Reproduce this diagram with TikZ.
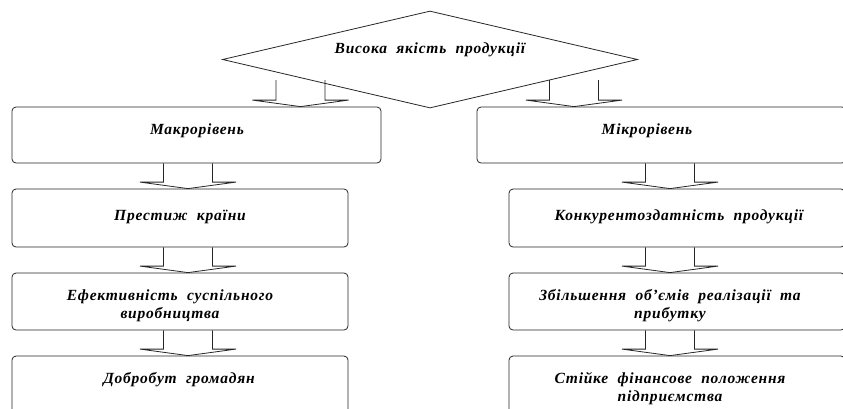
\documentclass[tikz,border=0pt]{standalone}
\usepackage{fontspec}
\setmainfont{Liberation Serif}
\newfontfamily\labfont[LetterSpace=5,WordSpace=2]{Liberation Serif}
\usetikzlibrary{shapes.geometric,calc}
\newcommand\blkarrow[3]{%
  \draw[arrowline] let \p1=(#1 |- #2), \p2=(#1 |- #3) in
   (\x1-24.5pt,\y1) -- (\x1-24.5pt,\y2+6.5pt) -- (\x1-48pt,\y2+6.5pt) -- (\x1,\y2)
   -- (\x1+48pt,\y2+6.5pt) -- (\x1+24.5pt,\y2+6.5pt) -- (\x1+24.5pt,\y1);}
\begin{document}
\begin{tikzpicture}[x=1pt,y=-1pt,
  box/.style={draw=black!85, line width=0.8pt, rounded corners=4pt, inner sep=0pt},
  dia/.style={draw=black!85, line width=0.8pt, diamond, inner sep=0pt, minimum width=415pt, minimum height=97pt},
  txt/.style={font=\labfont\fontsize{15.5}{18}\selectfont\bfseries\itshape, align=center, inner sep=0pt, anchor=base},
  arrowline/.style={draw=black!85, line width=0.8pt, line join=miter}]
\useasboundingbox (0,0) rectangle (843,408);
\clip (0,0) rectangle (843,408);
% diamond
\node[dia] (d) at (430,59.5) {};
\node[txt] (dt) at (430,53) {Висока якість продукції};
% boxes
\node[box, minimum width=369pt, minimum height=56pt] (L1) at (196.5,135) {};
\node[box, minimum width=336pt, minimum height=58pt] (L2) at (180,218) {};
\node[box, minimum width=336pt, minimum height=57pt] (L3) at (180,301.5) {};
\node[box, minimum width=336pt, minimum height=58pt] (L4) at (180,385) {};
\node[box, minimum width=369pt, minimum height=56pt] (R1) at (661.5,135) {};
\node[box, minimum width=336pt, minimum height=58pt] (R2) at (677,218) {};
\node[box, minimum width=336pt, minimum height=57pt] (R3) at (677,301.5) {};
\node[box, minimum width=336pt, minimum height=58pt] (R4) at (677,385) {};
% texts
\node[txt] (t1) at (197,134) {Макрорівень};
\node[txt] (t2) at (647,134) {Мікрорівень};
\node[txt] (t3) at (180,220) {Престиж країни};
\node[txt] (t4) at (679,220) {Конкурентоздатність продукції};
\node[txt] (t5) at (170,318) {Ефективність суспільного\\виробництва};
\node[txt] (t6) at (670,318) {Збільшення об’ємів реалізації та\\прибутку};
\node[txt] (t7) at (179,383) {Добробут громадян};
\node[txt] (t8) at (670,401) {Стійке фінансове положення\\підприємства};
% arrow axes
\coordinate (axA) at (300.5,80);
\coordinate (axB) at (574,80);
\coordinate (axL) at (188,0);
\coordinate (axR) at (670,0);
% arrows
\blkarrow{axA}{axA}{L1.north}
\blkarrow{axB}{axB}{R1.north}
\blkarrow{axL}{L1.south}{L2.north}
\blkarrow{axL}{L2.south}{L3.north}
\blkarrow{axL}{L3.south}{L4.north}
\blkarrow{axR}{R1.south}{R2.north}
\blkarrow{axR}{R2.south}{R3.north}
\blkarrow{axR}{R3.south}{R4.north}
\end{tikzpicture}
\end{document}
